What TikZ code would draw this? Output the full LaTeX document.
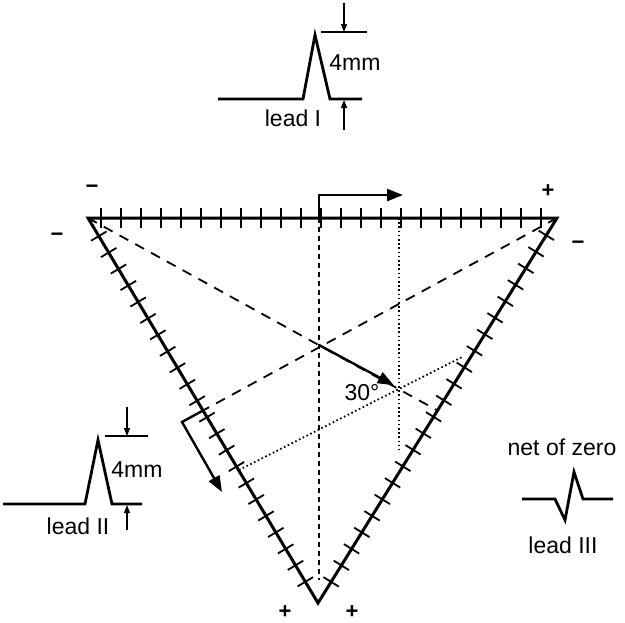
\documentclass[tikz,border=0pt]{standalone}
\usepackage{fontspec}
\setmainfont{Liberation Sans}
\usetikzlibrary{calc,arrows.meta}

\tikzset{
  txt/.style={font=\fontsize{11.5}{13}\selectfont, inner sep=0pt},
  sgn/.style={font=\fontsize{11}{13}\selectfont\bfseries, inner sep=0pt},
  side/.style={line width=1.5pt, line join=miter},
  tck/.style={line width=0.9pt},
  median/.style={line width=0.9pt, dash pattern=on 5pt off 4pt},
  vmedian/.style={line width=0.9pt, dash pattern=on 2.5pt off 2pt},
  proj/.style={line width=0.9pt, dash pattern=on 0.8pt off 1.3pt},
  vec/.style={line width=1.2pt, -{Triangle[length=8pt,width=6pt]}},
  wave/.style={line width=1.4pt, line join=miter},
  dimline/.style={line width=0.7pt},
  dimarrow/.style={line width=0.7pt, -{Triangle[length=4pt,width=3pt]}},
}

\begin{document}
\begin{tikzpicture}[x=0.5pt,y=-0.5pt]
    \useasboundingbox (0,0) rectangle (625,622);

    % triangle corners, centre and tip of the axis
    \coordinate (ra) at (88,218);
    \coordinate (la) at (557,218);
    \coordinate (ll) at (318,603);
    \coordinate (c) at (319,345);
    \coordinate (p) at (399,388);
    \coordinate (mI) at (319,218);
    \coordinate (mII) at ($(ra)!0.5!(ll)$);
    \coordinate (mIII) at ($(la)!0.5!(ll)$);

    % medians
    \draw[median] (ra) -- (mIII);
    \draw[median] (la) -- (mII);
    \draw[vmedian] (mI) -- (319,580);

    % projections of the axis
    \coordinate (qI) at (399,218);
    \coordinate (qIb) at (399,450);
    \coordinate (qII) at (239,470);
    \coordinate (qIIb) at (462,357);
    \draw[proj] (qI) -- (qIb);
    \draw[proj] (qII) -- (qIIb);

    % sides with scale marks
    \draw[side] (ra) -- (la) -- (ll) -- cycle;
    \foreach \k in {0,...,22} {
        \pgfmathsetmacro{\t}{0.0277+\k*0.04265}
        \draw[tck] ($(ra)!\t!(la)!5pt!90:(la)$) -- ($(ra)!\t!(la)!5pt!-90:(la)$);
    }
    \foreach \k in {0,...,21} {
        \pgfmathsetmacro{\t}{0.047+\k*0.04276}
        \draw[tck] ($(ra)!\t!(ll)!4.5pt!90:(ll)$) -- ($(ra)!\t!(ll)!4.5pt!-90:(ll)$);
        \pgfmathsetmacro{\s}{0.045+\k*0.04286}
        \draw[tck] ($(la)!\s!(ll)!4.5pt!90:(ll)$) -- ($(la)!\s!(ll)!4.5pt!-90:(ll)$);
    }

    % polarity signs
    \node[sgn] (s1) at (92,189) {−};
    \node[sgn] (s2) at (57,237) {−};
    \node[sgn] (s3) at (548,191) {+};
    \node[sgn] (s4) at (578,245) {−};
    \node[sgn] (s5) at (285,612) {+};
    \node[sgn] (s6) at (352,612) {+};

    % axis and its components
    \draw[vec, shorten >=3pt] (c) -- (p);
    \node[txt] (ang) at (362,393) {30°};
    \coordinate (vI) at (403,195);
    \draw[vec] (mI) |- (vI);
    \coordinate (vII0) at (182,422);
    \coordinate (vII1) at (222,492);
    \draw[vec] (mII) -- (vII0) -- (vII1);

    % lead I
    \draw[wave] (218,99) -- (303,99) -- (315,35) -- (330,99) -- (362,99);
    \draw[dimline] (321,32) -- (367,32);
    \draw[dimarrow] (344,3) -- (344,32);
    \draw[dimarrow] (344,130) -- (344,100);
    \node[txt] (hI) at (355,63) {4mm};
    \node[txt] (nI) at (293,118) {lead I};

    % lead II
    \draw[wave] (3,504) -- (85,504) -- (98,440) -- (112,504) -- (142,504);
    \draw[dimline] (105,436) -- (148,436);
    \draw[dimarrow] (127,407) -- (127,436);
    \draw[dimarrow] (127,530) -- (127,505);
    \node[txt] (hII) at (137,470) {4mm};
    \node[txt] (nII) at (78,526) {lead II};

    % lead III
    \draw[wave] (522,499) -- (555,499) -- (565,520) -- (574,472) -- (583,499) -- (613,499);
    \node[txt] (hIII) at (562,447) {net of zero};
    \node[txt] (nIII) at (563,545) {lead III};
\end{tikzpicture}
\end{document}
